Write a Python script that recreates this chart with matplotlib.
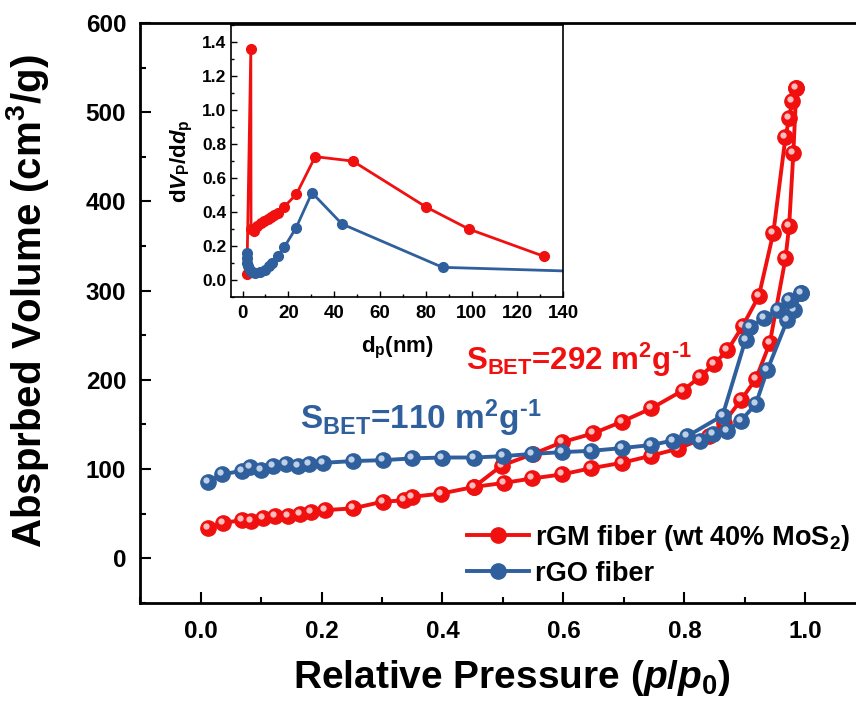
import matplotlib
matplotlib.use('Agg')
import matplotlib.pyplot as plt
from matplotlib.transforms import offset_copy
from matplotlib.ticker import MultipleLocator, FormatStrFormatter
from matplotlib.font_manager import FontProperties

plt.rcParams['font.family'] = ['Liberation Sans', 'DejaVu Sans']
plt.rcParams['font.weight'] = 'bold'
plt.rcParams['axes.labelweight'] = 'bold'
plt.rcParams['mathtext.fontset'] = 'custom'
plt.rcParams['mathtext.rm'] = 'Liberation Sans:bold'
plt.rcParams['mathtext.it'] = 'Liberation Sans:bold:italic'
plt.rcParams['mathtext.bf'] = 'Liberation Sans:bold'

# isotherm data (p/p0, cm3/g)
rgm_ads_x = [0.012, 0.037, 0.068, 0.084, 0.104, 0.123, 0.145, 0.164, 0.183, 0.205,
             0.252, 0.301, 0.337, 0.350, 0.397, 0.452, 0.501, 0.548, 0.597, 0.646,
             0.696, 0.745, 0.790, 0.840, 0.865, 0.893, 0.918, 0.941, 0.967, 0.973,
             0.980, 0.985]
rgm_ads_y = [34, 40, 42.5, 42, 45, 47, 47.5, 50, 52, 54,
             56, 63.5, 65, 69, 72.5, 80, 84.5, 89.5, 94, 101,
             107, 115, 123, 137, 152, 177, 201, 241, 336, 372,
             454, 527]
rgm_des_x = [0.985, 0.978, 0.973, 0.967, 0.947, 0.923, 0.896, 0.871, 0.849, 0.825,
             0.797, 0.745, 0.696, 0.649, 0.597, 0.550, 0.498, 0.452]
rgm_des_y = [527, 512, 493, 472, 365, 294, 260, 233, 218, 203,
             188, 168, 153, 140, 130, 117, 104, 80]

rgo_ads_x = [0.013, 0.035, 0.068, 0.082, 0.100, 0.120, 0.142, 0.161, 0.180, 0.202,
             0.252, 0.301, 0.350, 0.400, 0.452, 0.500, 0.548, 0.597, 0.646, 0.696,
             0.745, 0.781, 0.825, 0.847, 0.871, 0.893, 0.918, 0.937, 0.970, 0.981,
             0.992]
rgo_ads_y = [86, 94, 98, 102, 99, 103, 106, 104, 106, 107,
             109, 110, 112, 113, 113, 114.5, 117, 119, 120.5, 123.5,
             127, 132, 132, 139, 143, 154, 173, 211, 267, 278,
             297]
rgo_des_x = [0.992, 0.973, 0.954, 0.932, 0.908, 0.901, 0.863, 0.805]
rgo_des_y = [297, 289, 278, 269, 259, 245, 160, 137]

# pore size distribution (inset)
rgm_dp = [1.9, 3.6, 3.7, 5.1, 6.5, 7.9, 9.4, 10.9, 12.3, 13.8, 15.3, 18.1, 23.5,
          31.7, 48.1, 80.1, 98.8, 131.5]
rgm_dv = [0.035, 1.36, 0.30, 0.29, 0.32, 0.335, 0.35, 0.36, 0.37, 0.38, 0.395, 0.43,
          0.505, 0.726, 0.70, 0.43, 0.30, 0.14]
rgo_dp = [1.8, 1.9, 2.1, 2.5, 3.2, 4.2, 5.6, 7.7, 9.9, 11.4, 13.0, 15.3, 18.3, 23.3,
          30.3, 43.4, 87.3, 150]
rgo_dv = [0.157, 0.13, 0.10, 0.08, 0.06, 0.05, 0.04, 0.05, 0.06, 0.08, 0.10, 0.14,
          0.196, 0.306, 0.514, 0.33, 0.075, 0.05]

red = '#f01010'
blue = '#2f5f9c'

fig = plt.figure(figsize=(8.56, 7.04), dpi=100)
ax = fig.add_axes([0.1636, 0.1435, 0.848, 0.824])

def ball_line(x, y, color, hl, label=None):
    ln, = ax.plot(x, y, '-o', color=color, lw=2.8, ms=11, mec=color, label=label)
    tr = offset_copy(ax.transData, fig=fig, x=-2.0, y=2.0, units='dots')
    ax.plot(x, y, 'o', transform=tr, ms=4.5, color=hl, mec='none', alpha=0.9)
    return ln

ball_line(rgm_ads_x, rgm_ads_y, red, '#ffd0d0', label='rGM fiber (wt 40% MoS$_\\mathregular{2}$)')
ball_line(rgm_des_x, rgm_des_y, red, '#ffd0d0')
ball_line(rgo_ads_x, rgo_ads_y, blue, '#d0ddef', label='rGO fiber')
ball_line(rgo_des_x, rgo_des_y, blue, '#d0ddef')

ax.set_xlim(-0.1, 1.1)
ax.set_ylim(-50, 600)
ax.xaxis.set_major_locator(MultipleLocator(0.2))
ax.xaxis.set_minor_locator(MultipleLocator(0.1))
ax.yaxis.set_major_locator(MultipleLocator(100))
ax.yaxis.set_minor_locator(MultipleLocator(50))
ax.xaxis.set_major_formatter(FormatStrFormatter('%.1f'))
ax.tick_params(which='both', direction='in', width=1.5, labelsize=17.5)
ax.tick_params(axis='x', pad=12)
ax.tick_params(axis='y', pad=10)
ax.tick_params(which='major', length=8)
ax.tick_params(which='minor', length=4)
for s in ax.spines.values():
    s.set_linewidth(2)
ax.set_xlabel('Relative Pressure ($p$/$p_\\mathregular{0}$)', fontsize=28, labelpad=11)
ax.set_ylabel('Absprbed Volume (cm$^\\mathregular{3}$/g)', fontsize=29, labelpad=25)
ax.xaxis.label.set_x(0.512)
ax.yaxis.label.set_y(0.52)

ax.text(0.439, 211, 'S$_\\mathregular{BET}$=292 m$^\\mathregular{2}$g$^{\\text{-}\\mathregular{1}}$',
        color=red, fontsize=22.5, ha='left', va='baseline')
ax.text(0.165, 145, 'S$_\\mathregular{BET}$=110 m$^\\mathregular{2}$g$^{\\text{-}\\mathregular{1}}$',
        color=blue, fontsize=24, ha='left', va='baseline')

leg_font = FontProperties(family='Liberation Sans', weight='bold', size=19.5)
ax.legend(loc='lower right', bbox_to_anchor=(1.0, 0.0), frameon=False, prop=leg_font,
          handlelength=2.3, handletextpad=0.2, labelspacing=0.3, borderaxespad=0.2)

# inset
ins = fig.add_axes([0.270, 0.578, 0.388, 0.3864])
ins.plot(rgm_dp, rgm_dv, '-o', color=red, lw=2, ms=7)
ins.plot(rgo_dp, rgo_dv, '-o', color=blue, lw=2, ms=7)
ins.set_xlim(-5, 140)
ins.set_ylim(-0.1, 1.5)
ins.xaxis.set_major_locator(MultipleLocator(20))
ins.xaxis.set_minor_locator(MultipleLocator(10))
ins.yaxis.set_major_locator(MultipleLocator(0.2))
ins.yaxis.set_minor_locator(MultipleLocator(0.1))
ins.yaxis.set_major_formatter(FormatStrFormatter('%.1f'))
ins.tick_params(which='both', direction='in', width=1, labelsize=12.5)
ins.tick_params(which='major', length=4)
ins.tick_params(which='minor', length=2)
ins.tick_params(axis='x', labelsize=13.5, pad=6)
for s in ins.spines.values():
    s.set_linewidth(1.2)
ins.set_xlabel('d$_\\mathregular{p}$(nm)', fontsize=16, labelpad=9)
ins.set_ylabel('d$V_\\mathregular{P}$/d$d_\\mathregular{p}$', fontsize=16, labelpad=5)

fig.savefig('out.png', dpi=100)
